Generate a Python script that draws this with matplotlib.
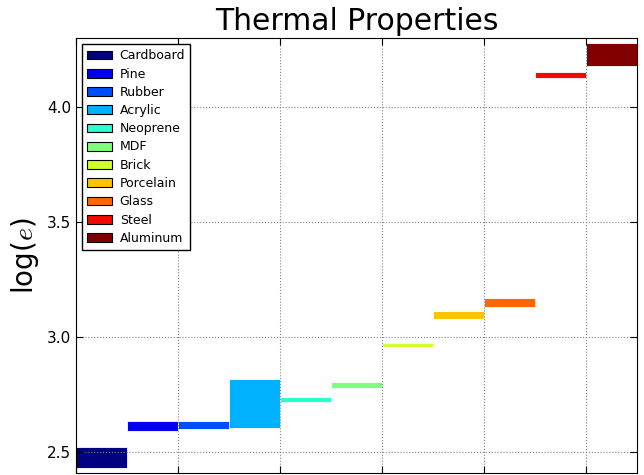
import matplotlib
matplotlib.use("Agg")
import matplotlib.pyplot as plt
from matplotlib.patches import Patch
import numpy as np

materials = ["Cardboard", "Pine", "Rubber", "Acrylic", "Neoprene", "MDF",
             "Brick", "Porcelain", "Glass", "Steel", "Aluminum"]
# log(e) range for each material: low and high end
log_low = [2.43, 2.593, 2.603, 2.607, 2.720, 2.778, 2.957, 3.078, 3.130, 4.127, 4.178]
log_high = [2.523, 2.635, 2.635, 2.820, 2.739, 2.806, 2.975, 3.116, 3.170, 4.152, 4.280]
width = 0.5

colors = plt.cm.jet(np.linspace(0, 1, len(materials)))
x_pos = [i * width for i in range(len(materials))]
heights = [h - l for l, h in zip(log_low, log_high)]

fig = plt.figure(figsize=(6.44, 4.75), dpi=100)
ax = fig.add_axes([0.118, 0.004, 0.871, 0.916])

ax.bar(x_pos, heights, width=width, bottom=log_low, align='edge',
       color=colors, edgecolor='white', linewidth=0.6)

ax.set_xlim(0, 5.5)
ax.set_ylim(2.41, 4.3)
ax.set_xticks(range(6))
ax.set_xticklabels([])
ax.set_yticks([2.5, 3.0, 3.5, 4.0])
ax.tick_params(direction='in', top=True, right=True, labelsize=11, length=5)
ax.grid(True, color='gray', linestyle=':', linewidth=0.8)

ax.set_title("Thermal Properties", fontsize=21.5)
ax.set_ylabel("log($e$)", fontsize=20, math_fontfamily='cm')

handles = [Patch(facecolor=c, edgecolor='black', linewidth=0.8) for c in colors]
ax.legend(handles, materials, loc='upper left', fontsize=9, fancybox=False,
          edgecolor='black', framealpha=1, borderaxespad=0.5, handlelength=2.0,
          labelspacing=0.42, handletextpad=0.6, borderpad=0.4)

fig.savefig("out.png", dpi=100)
